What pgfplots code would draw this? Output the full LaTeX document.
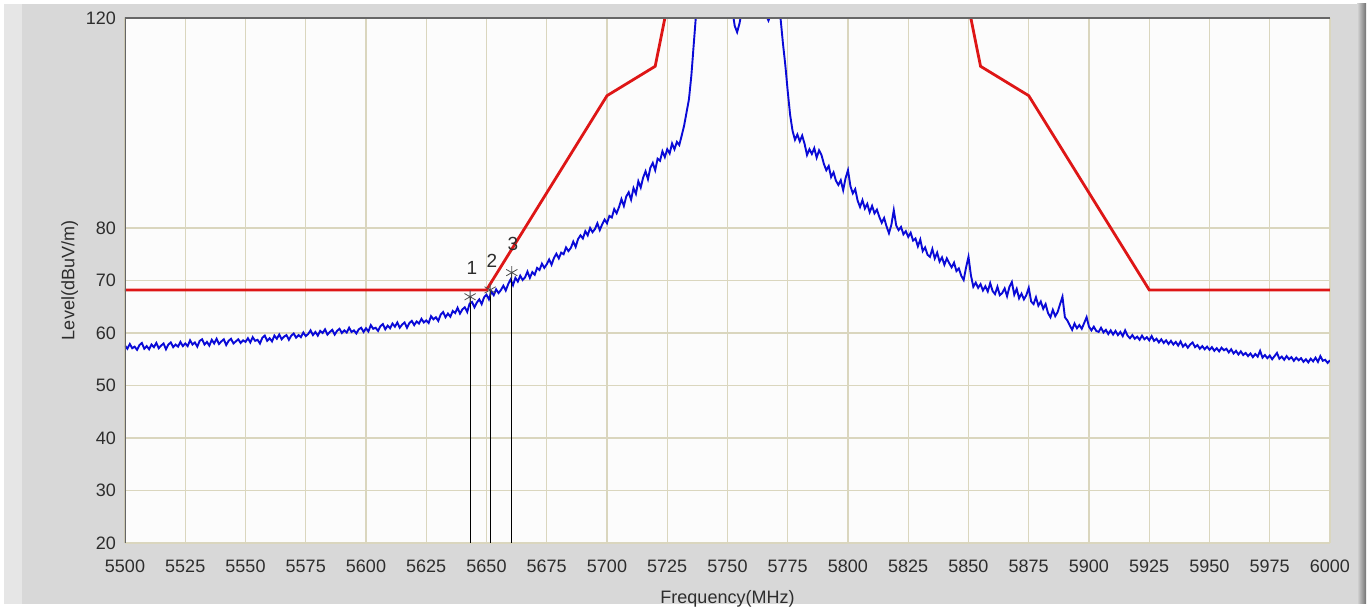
\documentclass[border=0pt]{standalone}
\usepackage{fontspec}
\setmainfont{Liberation Sans}
\usepackage{pgfplots}
\pgfplotsset{compat=1.18}

\definecolor{panel}{RGB}{216,216,216}
\definecolor{panellight}{RGB}{230,230,230}
\definecolor{gridc}{RGB}{218,214,190}
\definecolor{trace}{RGB}{10,10,215}
\definecolor{limit}{RGB}{222,22,22}
\definecolor{txt}{RGB}{45,45,45}

\begin{document}
\begin{tikzpicture}
% gray panel behind the chart (1 px = 0.5 pt)
\fill[white] (-62.5pt,-32.5pt) rectangle (623.5pt,271.5pt);
\fill[panel] (-60.5pt,-30.5pt) rectangle (620.5pt,269.5pt);
\fill[panellight] (-60.5pt,-30.5pt) rectangle (-51.5pt,269.5pt);
\shade[left color=panel, right color=black!55] (616pt,-30.5pt) rectangle (620.5pt,269.5pt);

\begin{axis}[
    at={(0,0)}, anchor=south west,
    scale only axis,
    width=602.5pt, height=262.5pt,
    xmin=5500, xmax=6000,
    ymin=20, ymax=120,
    xtick={5500,5525,...,6000},
    ytick={20,30,40,50,60,70,80,120},
    grid=major,
    grid style={gridc, line width=0.7pt},
    major tick length=0pt,
    axis line style={draw=none},
    axis background/.style={fill=white!99!black},
    /pgf/number format/assume math mode=true,
    /pgf/number format/set thousands separator={},
    tick label style={font=\fontsize{9}{10}\selectfont, text=txt},
    xticklabel style={yshift=-5pt},
    yticklabel style={xshift=-1pt},
    xlabel={Frequency(MHz)},
    ylabel={Level(dBuV/m)},
    label style={font=\fontsize{9}{10}\selectfont, text=txt},
    xlabel style={yshift=-1.8pt},
    ylabel style={yshift=-3pt},
]

% measured spectrum
\addplot[trace, line width=0.95pt] coordinates {
(5500,57.6)(5501,57.0)(5502,57.9)(5503,57.1)(5504,57.4)(5505,56.8)(5506,57.7)(5507,58.1)(5508,57.0)(5509,57.5)
(5510,56.9)(5511,57.8)(5512,57.3)(5513,58.1)(5514,57.1)(5515,57.6)(5516,58.0)(5517,56.9)(5518,57.8)(5519,58.2)
(5520,57.3)(5521,57.8)(5522,57.4)(5523,58.3)(5524,57.5)(5525,58.0)(5526,57.5)(5527,58.6)(5528,57.8)(5529,58.2)
(5530,57.4)(5531,58.5)(5532,58.8)(5533,57.8)(5534,58.3)(5535,57.6)(5536,58.7)(5537,58.0)(5538,58.9)(5539,57.9)
(5540,58.4)(5541,58.8)(5542,57.7)(5543,58.5)(5544,58.9)(5545,58.0)(5546,58.4)(5547,58.8)(5548,58.1)(5549,58.6)
(5550,58.3)(5551,59.0)(5552,58.2)(5553,59.2)(5554,58.5)(5555,58.7)(5556,58.0)(5557,59.1)(5558,59.5)(5559,58.5)
(5560,59.0)(5561,58.4)(5562,59.5)(5563,58.9)(5564,59.7)(5565,58.8)(5566,59.3)(5567,59.6)(5568,58.7)(5569,59.5)
(5570,59.9)(5571,59.1)(5572,59.6)(5573,59.2)(5574,60.1)(5575,59.4)(5576,59.8)(5577,60.5)(5578,59.6)(5579,60.2)
(5580,59.5)(5581,60.4)(5582,60.0)(5583,60.7)(5584,59.7)(5585,60.2)(5586,60.6)(5587,59.7)(5588,60.4)(5589,60.8)
(5590,60.0)(5591,60.5)(5592,60.1)(5593,61.0)(5594,60.2)(5595,60.5)(5596,59.9)(5597,60.7)(5598,61.0)(5599,60.2)
(5600,60.9)(5601,60.3)(5602,61.5)(5603,60.8)(5604,61.0)(5605,60.4)(5606,61.3)(5607,61.7)(5608,60.7)(5609,61.4)
(5610,60.9)(5611,61.8)(5612,61.2)(5613,62.0)(5614,61.0)(5615,61.6)(5616,62.0)(5617,61.0)(5618,61.9)(5619,62.3)
(5620,61.5)(5621,62.2)(5622,61.8)(5623,62.7)(5624,62.0)(5625,62.4)(5626,61.9)(5627,63.2)(5628,62.6)(5629,63.0)
(5630,62.3)(5631,63.5)(5632,64.0)(5633,63.0)(5634,63.7)(5635,63.1)(5636,64.2)(5637,63.8)(5638,64.8)(5639,63.7)
(5640,64.5)(5641,64.9)(5642,64.0)(5643,65.6)(5644,65.9)(5645,64.9)(5646,65.8)(5647,66.4)(5648,65.5)(5649,66.8)
(5650,67.3)(5651,66.4)(5652,67.9)(5653,67.2)(5654,68.3)(5655,67.6)(5656,68.2)(5657,69.0)(5658,68.1)(5659,69.3)
(5660,70.2)(5661,69.1)(5662,70.5)(5663,69.8)(5664,70.9)(5665,70.1)(5666,70.6)(5667,71.7)(5668,70.5)(5669,71.6)
(5670,71.1)(5671,72.4)(5672,72.0)(5673,73.2)(5674,72.4)(5675,73.1)(5676,74.0)(5677,73.0)(5678,74.3)(5679,75.1)
(5680,74.2)(5681,75.3)(5682,75.0)(5683,76.3)(5684,75.6)(5685,76.2)(5686,77.4)(5687,76.4)(5688,77.9)(5689,78.6)
(5690,78.0)(5691,79.4)(5692,78.6)(5693,80.0)(5694,79.2)(5695,79.8)(5696,80.9)(5697,79.6)(5698,80.7)(5699,81.6)
(5700,80.9)(5701,82.3)(5702,82.0)(5703,83.6)(5704,82.8)(5705,84.0)(5706,85.5)(5707,84.2)(5708,86.0)(5709,86.8)
(5710,85.4)(5711,87.6)(5712,86.5)(5713,88.9)(5714,87.7)(5715,89.6)(5716,90.8)(5717,89.3)(5718,91.5)(5719,92.4)
(5720,91.0)(5721,93.2)(5722,92.8)(5723,94.6)(5724,93.5)(5725,95.0)(5726,94.2)(5727,96.1)(5728,95.0)(5729,96.4)
(5730,95.8)(5731,97.6)(5732,99.5)(5733,102.0)(5734,104.5)(5735,109.0)(5736,115.0)(5737,121.0)
(5740,124)(5745,126)(5750,124.5)(5752,121.5)(5753,118.5)(5754,117.3)(5755,119.0)(5756,121.5)
(5760,125.5)(5765,123)(5766,120.5)(5767,119.5)(5768,120.8)(5771,122)(5772,120)
(5773,115.2)(5774,111.0)(5775,106.0)(5776,101.5)(5777,98.5)(5778,96.8)(5779,97.8)
(5780,96.5)(5781,97.6)(5782,96.0)(5783,93.9)(5784,95.0)(5785,94.1)(5786,95.2)(5787,93.4)(5788,94.8)(5789,93.9)
(5790,92.2)(5791,91.0)(5792,91.8)(5793,89.7)(5794,90.6)(5795,89.0)(5796,88.2)(5797,89.1)(5798,87.2)(5799,89.5)
(5800,91.0)(5801,88.0)(5802,86.6)(5803,87.4)(5804,85.2)(5805,84.0)(5806,85.3)(5807,83.7)(5808,84.6)(5809,83.0)
(5810,84.2)(5811,82.8)(5812,83.5)(5813,82.1)(5814,81.0)(5815,81.9)(5816,80.3)(5817,79.0)(5818,80.6)(5819,83.4)
(5820,80.5)(5821,79.6)(5822,80.2)(5823,78.8)(5824,79.4)(5825,78.3)(5826,79.1)(5827,77.6)(5828,78.0)(5829,76.5)
(5830,77.8)(5831,75.6)(5832,76.3)(5833,74.9)(5834,74.5)(5835,76.0)(5836,74.2)(5837,75.3)(5838,73.6)(5839,74.4)
(5840,73.0)(5841,74.2)(5842,73.3)(5843,72.5)(5844,73.4)(5845,71.8)(5846,72.3)(5847,70.9)(5848,70.1)(5849,72.5)
(5850,74.5)(5851,71.0)(5852,68.8)(5853,69.6)(5854,68.6)(5855,69.3)(5856,68.1)(5857,68.9)(5858,67.9)(5859,69.5)
(5860,68.0)(5861,67.4)(5862,68.8)(5863,67.2)(5864,67.6)(5865,68.5)(5866,67.0)(5867,68.8)(5868,69.7)(5869,67.3)
(5870,68.4)(5871,66.6)(5872,67.5)(5873,66.4)(5874,67.2)(5875,68.6)(5876,66.0)(5877,65.5)(5878,66.8)(5879,65.2)
(5880,66.0)(5881,64.6)(5882,65.5)(5883,63.8)(5884,63.0)(5885,64.4)(5886,63.2)(5887,64.0)(5888,65.5)(5889,66.9)
(5890,63.0)(5891,62.4)(5892,61.5)(5893,60.6)(5894,61.8)(5895,60.9)(5896,61.5)(5897,60.8)(5898,61.9)(5899,63.0)
(5900,61.2)(5901,60.5)(5902,61.2)(5903,60.4)(5904,60.2)(5905,61.0)(5906,60.1)(5907,60.6)(5908,59.8)(5909,60.5)
(5910,59.7)(5911,60.4)(5912,59.6)(5913,60.2)(5914,59.4)(5915,60.5)(5916,59.5)(5917,59.0)(5918,59.6)(5919,58.9)
(5920,59.3)(5921,58.7)(5922,59.5)(5923,58.8)(5924,59.2)(5925,58.6)(5926,59.4)(5927,58.5)(5928,58.9)(5929,58.2)
(5930,58.8)(5931,58.1)(5932,58.6)(5933,57.9)(5934,58.5)(5935,57.8)(5936,58.3)(5937,57.6)(5938,58.4)(5939,57.4)
(5940,57.9)(5941,57.2)(5942,57.8)(5943,58.2)(5944,57.3)(5945,57.7)(5946,57.0)(5947,57.5)(5948,56.9)(5949,57.4)
(5950,56.8)(5951,57.3)(5952,56.6)(5953,57.1)(5954,56.5)(5955,57.2)(5956,56.7)(5957,57.0)(5958,56.3)(5959,56.9)
(5960,56.1)(5961,56.6)(5962,55.9)(5963,56.5)(5964,55.8)(5965,56.2)(5966,55.6)(5967,56.1)(5968,55.4)(5969,56.0)
(5970,55.5)(5971,56.6)(5972,55.3)(5973,55.8)(5974,55.2)(5975,55.7)(5976,55.0)(5977,55.6)(5978,56.2)(5979,55.1)
(5980,55.5)(5981,54.9)(5982,55.6)(5983,55.0)(5984,55.4)(5985,54.7)(5986,55.3)(5987,54.8)(5988,55.2)(5989,54.5)
(5990,55.0)(5991,54.4)(5992,55.1)(5993,54.6)(5994,55.3)(5995,54.5)(5996,55.6)(5997,54.7)(5998,54.9)(5999,54.3)
(6000,54.8)
};

% limit mask
\addplot[limit, line width=1.4pt] coordinates {
(5500,68.2)(5650,68.2)(5700,105.2)(5720,110.8)(5725,122.2)};
\addplot[limit, line width=1.4pt] coordinates {
(5850,122.2)(5855,110.8)(5875,105.2)(5925,68.2)(6000,68.2)};

% marker drop lines
\addplot[black, line width=0.6pt] coordinates {(5643.2,66.9)(5643.2,20)};
\addplot[black, line width=0.6pt] coordinates {(5651.5,68.2)(5651.5,20)};
\addplot[black, line width=0.6pt] coordinates {(5660.5,71.5)(5660.5,20)};
\addplot[only marks, mark=asterisk, mark size=3.2pt, black!70] coordinates {
(5643.2,66.9)(5651.5,68.2)(5660.5,71.5)};

\node[txt, font=\fontsize{9.5}{10}\selectfont] at (axis cs:5643.9,72.4) {1};
\node[txt, font=\fontsize{9.5}{10}\selectfont] at (axis cs:5652.2,73.8) {2};
\node[txt, font=\fontsize{9.5}{10}\selectfont] at (axis cs:5661,77.0) {3};

\draw[black!60, line width=0.6pt] (rel axis cs:0,0) -- (rel axis cs:0,1) -- (rel axis cs:1,1);
\end{axis}
\pgfresetboundingbox
\path[use as bounding box] (-62.5pt,-32.5pt) rectangle (623.5pt,271.5pt);
\end{tikzpicture}
\end{document}
